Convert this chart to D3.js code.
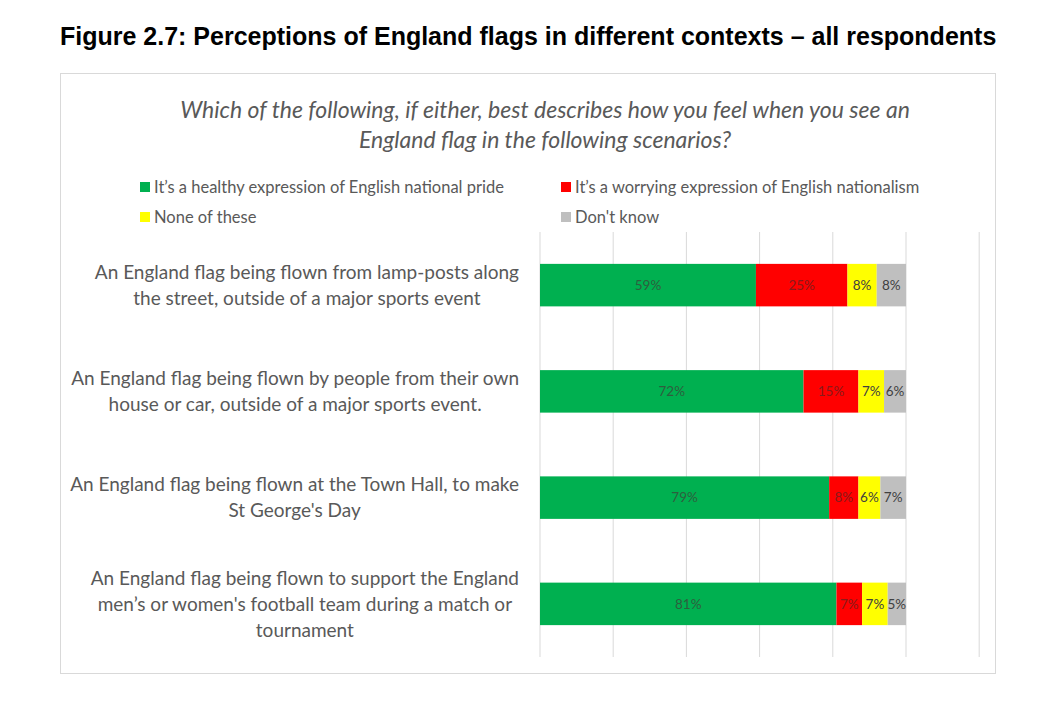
<!DOCTYPE html>
<html>
<head>
<meta charset="utf-8">
<script src="https://cdn.jsdelivr.net/npm/d3@7"></script>
<style>
  body { margin: 0; background: #fff; }
  svg text { font-family: Lato, "Open Sans", sans-serif; }
</style>
</head>
<body>
<div id="chart"></div>
<script>
// data
const categories = [
  ["An England flag being flown from lamp-posts along", "the street, outside of a major sports event"],
  ["An England flag being flown by people from their own", "house or car, outside of a major sports event."],
  ["An England flag being flown at the Town Hall, to make", "St George's Day"],
  ["An England flag being flown to support the England", "men\u2019s or women's football team during a match or", "tournament"]
]
const seriesNames = [
  "It\u2019s a healthy expression of English national pride",
  "It\u2019s a worrying expression of English nationalism",
  "None of these",
  "Don't know"
]
const healthy = [59, 72, 79, 81]
const worrying = [25, 15, 8, 7]
const noneOfThese = [8, 7, 6, 7]
const dontKnow = [8, 6, 7, 5]
const colors = ["#00B050", "#FF0000", "#FFFF00", "#BFBFBF"]
const xTicks = [0, 20, 40, 60, 80, 100, 120]

const width = 1041, height = 707

const svg = d3.select("#chart").append("svg")
  .attr("width", width)
  .attr("height", height)

// figure heading
svg.append("text")
  .attr("x", 60).attr("y", 45)
  .style("font-family", "'Liberation Sans', Arial, sans-serif")
  .style("font-weight", "bold")
  .style("font-size", "25px")
  .attr("fill", "#000")
  .text("Figure 2.7: Perceptions of England flags in different contexts \u2013 all respondents")

// chart frame
svg.append("rect")
  .attr("x", 60.5).attr("y", 73.5)
  .attr("width", 935).attr("height", 600)
  .attr("fill", "#fff")
  .attr("stroke", "#d9d9d9")

// question
const question = svg.append("text")
  .attr("text-anchor", "middle")
  .attr("fill", "#595959")
  .style("font-style", "italic")
  .style("font-size", "23px")
question.append("tspan").attr("x", 545).attr("y", 118)
  .text("Which of the following, if either, best describes how you feel when you see an")
question.append("tspan").attr("x", 545).attr("y", 148)
  .text("England flag in the following scenarios?")

// legend
const legendPos = [[140, 187], [561, 187], [140, 217], [561, 217]]
const legend = svg.append("g").classed("legend", true)
  .selectAll("g")
  .data(seriesNames)
  .enter().append("g")
  .attr("transform", (d, i) => `translate(${legendPos[i][0]},${legendPos[i][1]})`)
legend.append("rect")
  .attr("x", 0).attr("y", -5)
  .attr("width", 10).attr("height", 10)
  .attr("fill", (d, i) => colors[i])
legend.append("text")
  .attr("x", 14).attr("dy", "0.35em")
  .attr("fill", "#595959")
  .style("font-size", "16.5px")
  .text(d => d)

// plot
const x = d3.scaleLinear().domain([0, 100]).range([540, 906])
const y = d3.scaleBand().domain(d3.range(categories.length)).range([232, 657]).paddingInner(0.6).paddingOuter(0.3)

svg.append("g").classed("grid", true)
  .selectAll("line")
  .data(xTicks)
  .enter().append("line")
  .attr("x1", d => x(d)).attr("x2", d => x(d))
  .attr("y1", 232).attr("y2", 657)
  .attr("stroke", "#d9d9d9")
  .attr("stroke-width", 1)

const rows = categories.map((c, i) => [healthy[i], worrying[i], noneOfThese[i], dontKnow[i]])
const segs = []
rows.forEach((r, i) => {
  let acc = 0
  r.forEach((v, j) => {
    segs.push({ row: i, series: j, v: v, x0: acc, x1: acc + v })
    acc += v
  })
})

const bars = svg.append("g").classed("bars", true)
bars.selectAll("rect")
  .data(segs)
  .enter().append("rect")
  .attr("x", d => x(d.x0))
  .attr("width", d => x(d.x1) - x(d.x0))
  .attr("y", d => y(d.row))
  .attr("height", y.bandwidth())
  .attr("fill", d => colors[d.series])

bars.selectAll("text")
  .data(segs)
  .enter().append("text")
  .attr("x", d => (x(d.x0) + x(d.x1)) / 2)
  .attr("y", d => y(d.row) + y.bandwidth() / 2)
  .attr("dy", "0.35em")
  .attr("text-anchor", "middle")
  .attr("fill", d => d.series == 1 ? "#8a1a1a" : (d.series == 0 ? "#2e5e3e" : "#404040"))
  .style("font-size", "13.5px")
  .text(d => d.v + "%")

// category labels: lines centred, block right-aligned at the axis
const labelRight = 519
const lineH = 26
const labels = svg.append("g").classed("labels", true)
  .selectAll("text")
  .data(categories)
  .enter().append("text")
  .attr("text-anchor", "middle")
  .attr("fill", "#595959")
  .style("font-size", "19px")

labels.each(function (lines, i) {
  const t = d3.select(this)
  const cy = y(i) + y.bandwidth() / 2
  const top = cy - (lines.length - 1) * lineH / 2
  lines.forEach((ln, k) => {
    t.append("tspan").attr("y", top + k * lineH).attr("dy", "0.35em").text(ln)
  })
  let w = 0
  t.selectAll("tspan").each(function () { w = Math.max(w, this.getComputedTextLength()) })
  t.selectAll("tspan").attr("x", labelRight - w / 2)
})
</script>
</body>
</html>
